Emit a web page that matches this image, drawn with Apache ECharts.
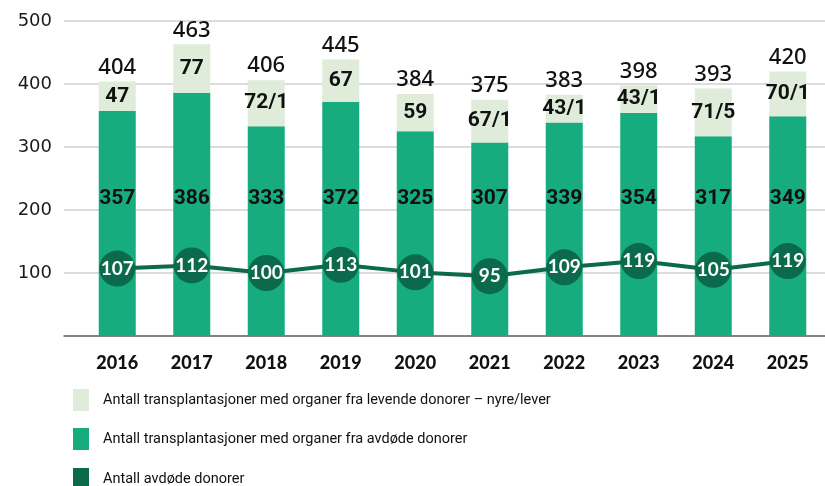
<!DOCTYPE html>
<html>
<head>
<meta charset="utf-8">
<script src="https://cdn.jsdelivr.net/npm/echarts@6/dist/echarts.min.js"></script>
<style>
  html, body { margin: 0; padding: 0; background: #fff; }
  #chart { width: 825px; height: 486px; }
</style>
</head>
<body>
<div id="chart"></div>
<script>
// data
var years = ['2016', '2017', '2018', '2019', '2020', '2021', '2022', '2023', '2024', '2025'];
var deceasedTx = [357, 386, 333, 372, 325, 307, 339, 354, 317, 349];
var livingTx = [47, 77, 73, 67, 59, 68, 44, 44, 76, 71];
var livingLabels = ['47', '77', '72/1', '67', '59', '67/1', '43/1', '43/1', '71/5', '70/1'];
var totals = [404, 463, 406, 445, 384, 375, 383, 398, 393, 420];
var donors = [107, 112, 100, 113, 101, 95, 109, 119, 105, 119];

var nameLiving = 'Antall transplantasjoner med organer fra levende donorer – nyre/lever';
var nameDeceased = 'Antall transplantasjoner med organer fra avdøde donorer';
var nameDonors = 'Antall avdøde donorer';

var cLight = '#dfecda';
var cMid = '#16ac7d';
var cDark = '#0b6a4b';

var myChart = echarts.init(document.getElementById('chart'));

// one legend per row so the last row can run off the bottom edge like the original
function legendRow(name, top) {
    return {
        left: 73,
        top: top,
        padding: 0,
        icon: 'rect',
        itemWidth: 16,
        itemHeight: 22,
        selectedMode: false,
        data: [name],
        textStyle: {
            fontFamily: 'Roboto, sans-serif',
            fontSize: 14.5,
            color: '#111',
            padding: [0, 0, 0, 9]
        }
    };
}

var option = {
    animation: false,
    legend: [
        legendRow(nameLiving, 389),
        legendRow(nameDeceased, 428),
        legendRow(nameDonors, 468)
    ],
    grid: [
        { left: 64, right: 0, top: 21, bottom: 150 },
        { left: 80, width: 760, top: 21, bottom: 150 }
    ],
    xAxis: [
        {
            gridIndex: 0, type: 'category', data: years,
            axisLabel: { show: false },
            axisTick: { show: false },
            axisLine: { lineStyle: { color: '#666', width: 1.5 } }
        },
        {
            gridIndex: 1, type: 'category', data: years,
            axisLine: { show: false },
            axisTick: { show: false },
            axisLabel: {
                margin: 18,
                fontFamily: 'Lato, sans-serif',
                fontWeight: 900,
                fontSize: 18,
                color: '#111'
            }
        }
    ],
    yAxis: [
        {
            gridIndex: 0, type: 'value', min: 0, max: 500, interval: 100,
            axisLine: { show: false },
            axisTick: { show: false },
            splitLine: { lineStyle: { color: '#d0d0d0', width: 1.5 } },
            axisLabel: {
                margin: 12,
                fontFamily: '"DejaVu Sans", sans-serif',
                fontSize: 18,
                color: '#1a1a1a',
                formatter: function (v) { return v === 0 ? '' : String(v); }
            }
        },
        {
            gridIndex: 1, type: 'value', min: 0, max: 500, interval: 100,
            show: false
        }
    ],
    series: [
        {
            name: nameDeceased,
            type: 'bar', xAxisIndex: 1, yAxisIndex: 1, stack: 'tx',
            barWidth: 37,
            itemStyle: { color: cMid },
            label: {
                show: true,
                position: 'insideBottom',
                distance: 127,
                fontFamily: 'Roboto, sans-serif',
                fontWeight: 'bold',
                fontSize: 21,
                color: '#111'
            },
            data: deceasedTx
        },
        {
            name: nameLiving,
            type: 'bar', xAxisIndex: 1, yAxisIndex: 1, stack: 'tx',
            barWidth: 37,
            itemStyle: { color: cLight },
            label: {
                show: true,
                position: 'inside',
                fontFamily: 'Roboto, sans-serif',
                fontWeight: 'bold',
                fontSize: 21,
                color: '#111',
                formatter: function (p) { return livingLabels[p.dataIndex]; }
            },
            data: livingTx
        },
        {
            name: 'sum',
            type: 'bar', xAxisIndex: 1, yAxisIndex: 1, stack: 'tx',
            barWidth: 37,
            itemStyle: { color: 'transparent' },
            label: {
                show: true,
                position: 'top',
                distance: 3,
                fontFamily: '"Noto Sans", sans-serif',
                fontWeight: 500,
                fontSize: 22,
                color: '#111',
                formatter: function (p) { return String(totals[p.dataIndex]); }
            },
            data: years.map(function () { return 0; })
        },
        {
            name: nameDonors,
            type: 'line', xAxisIndex: 1, yAxisIndex: 1,
            z: 5,
            symbol: 'circle',
            symbolSize: 36,
            itemStyle: { color: cDark },
            lineStyle: { color: cDark, width: 4 },
            label: {
                show: true,
                position: 'inside',
                fontFamily: 'Lato, sans-serif',
                fontWeight: 'bold',
                fontSize: 19,
                color: '#fff'
            },
            data: donors
        }
    ]
};

myChart.setOption(option);
</script>
</body>
</html>
